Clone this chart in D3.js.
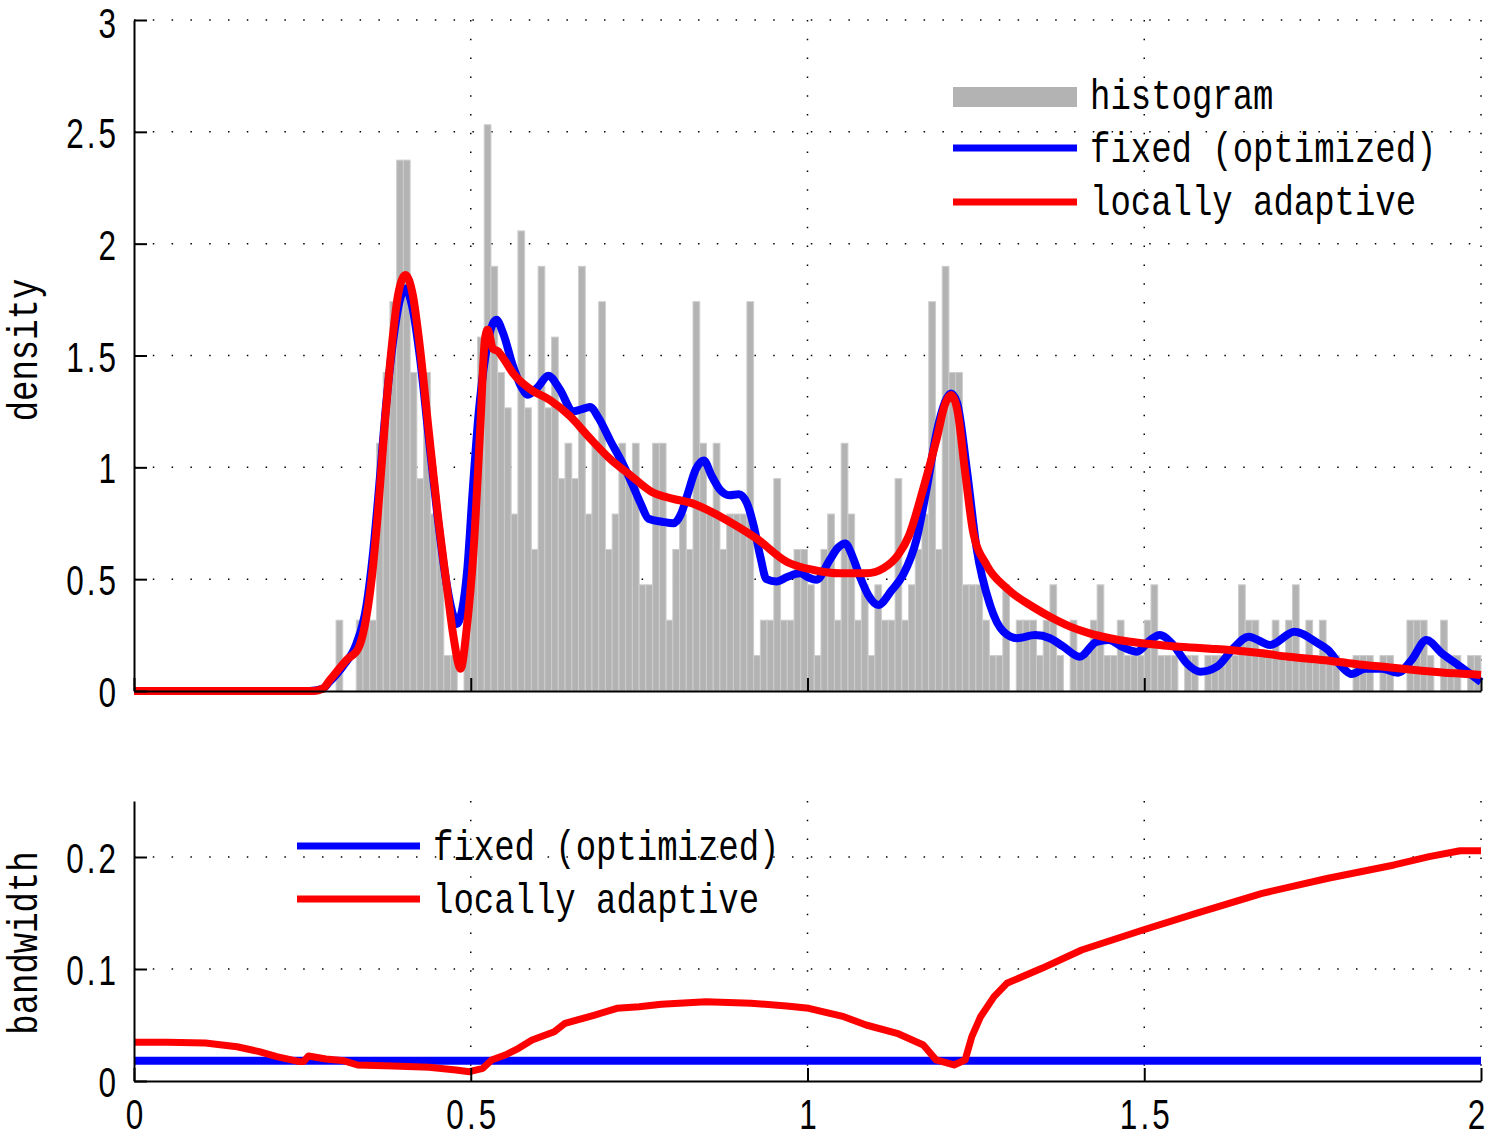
<!DOCTYPE html>
<html>
<head>
<meta charset="utf-8">
<script src="https://cdn.jsdelivr.net/npm/d3@7/dist/d3.min.js"></script>
<style>
  html, body { margin: 0; padding: 0; background: #fff; }
  svg { display: block; }
  text { fill: #000; }
  .mono { font-family: "Liberation Mono", "DejaVu Sans Mono", monospace; }
  .num { font-family: "Liberation Sans", "DejaVu Sans", sans-serif; letter-spacing: 4px; }
</style>
</head>
<body>
<svg id="chart" width="1491" height="1139"></svg>
<script>
// histogram counts per 0.01 bin, starting at x = 0.00
var binWidth = 0.01;
var binCounts = [
  0,0,0,0,0,0,0,0,0,0, 0,0,0,0,0,0,0,0,0,0, 0,0,0,0,0,0,0,0,0,0,
  2,0,0,2,2,2,7,9,11,15,
  15,9,6,9,5,4,1,1,0,2,
  6,10,16,12,9,8,5,13,8,4,
  12,8,10,6,7,6,12,5,7,11,
  4,5,7,6,7,3,3,7,7,2,
  4,5,4,11,7,5,7,4,5,5,
  5,11,1,2,2,6,2,2,4,4,
  3,1,4,5,2,7,5,2,3,1,
  3,2,2,6,2,3,4,5,11,4,
  12,9,9,3,3,3,2,1,1,3,
  0,2,2,2,1,2,3,1,0,2,
  1,1,2,3,1,1,2,1,1,1,
  2,3,1,1,1,0,1,1,0,1,
  1,1,1,1,3,2,2,1,1,2,
  1,2,3,1,2,1,2,1,1,0,
  0,1,1,1,0,1,1,0,0,2,
  2,2,1,0,2,1,1,0,1,1
];

// density estimates [x, density]
var fixedKde = [[0,0],[0.26,0],[0.28,0.01],[0.29,0.04],[0.31,0.11],[0.33,0.21],[0.345,0.38],[0.355,0.62],
  [0.365,0.95],[0.375,1.3],[0.385,1.57],[0.395,1.75],[0.403,1.8],[0.413,1.72],[0.425,1.48],[0.437,1.15],
  [0.45,0.8],[0.462,0.52],[0.472,0.36],[0.479,0.3],[0.487,0.36],[0.495,0.55],[0.503,0.9],[0.512,1.25],
  [0.522,1.5],[0.53,1.62],[0.538,1.66],[0.548,1.6],[0.563,1.45],[0.575,1.36],[0.585,1.325],[0.6,1.36],
  [0.615,1.41],[0.632,1.35],[0.652,1.25],[0.665,1.26],[0.677,1.27],[0.69,1.22],[0.707,1.12],[0.725,1.02],
  [0.739,0.93],[0.752,0.84],[0.764,0.77],[0.784,0.757],[0.801,0.75],[0.812,0.79],[0.822,0.88],[0.834,0.99],
  [0.846,1.03],[0.858,0.96],[0.87,0.9],[0.884,0.875],[0.898,0.88],[0.91,0.84],[0.92,0.74],[0.93,0.6],
  [0.939,0.5],[0.954,0.49],[0.97,0.51],[0.989,0.526],[1.0,0.51],[1.013,0.497],[1.033,0.586],[1.045,0.64],
  [1.056,0.66],[1.067,0.6],[1.078,0.51],[1.09,0.43],[1.105,0.385],[1.125,0.45],[1.142,0.52],[1.162,0.68],
  [1.177,0.906],[1.192,1.16],[1.207,1.31],[1.213,1.33],[1.222,1.29],[1.237,0.98],[1.251,0.64],[1.271,0.385],
  [1.291,0.265],[1.311,0.236],[1.338,0.25],[1.36,0.236],[1.38,0.198],[1.404,0.153],[1.429,0.22],[1.447,0.228],
  [1.469,0.195],[1.489,0.176],[1.509,0.228],[1.523,0.25],[1.543,0.206],[1.563,0.124],[1.583,0.086],[1.608,0.109],
  [1.632,0.19],[1.655,0.243],[1.687,0.206],[1.723,0.265],[1.758,0.213],[1.773,0.183],[1.793,0.109],[1.808,0.076],
  [1.828,0.1],[1.853,0.1],[1.877,0.082],[1.897,0.139],[1.919,0.228],[1.942,0.168],[1.966,0.116],[2.0,0.04]];

var adaptiveKde = [[0,0],[0.265,0],[0.28,0.01],[0.291,0.05],[0.316,0.14],[0.333,0.19],[0.3425,0.29],[0.352,0.478],
  [0.362,0.79],[0.372,1.18],[0.382,1.52],[0.392,1.77],[0.403,1.86],[0.414,1.77],[0.424,1.55],[0.437,1.18],
  [0.451,0.79],[0.464,0.48],[0.474,0.25],[0.485,0.1],[0.494,0.28],[0.504,0.62],[0.514,1.17],[0.521,1.57],
  [0.525,1.615],[0.533,1.53],[0.54,1.52],[0.55,1.48],[0.563,1.42],[0.588,1.35],[0.618,1.3],[0.647,1.23],
  [0.677,1.13],[0.706,1.04],[0.739,0.96],[0.769,0.89],[0.799,0.86],[0.828,0.84],[0.858,0.8],[0.888,0.75],
  [0.925,0.68],[0.969,0.578],[1.009,0.541],[1.048,0.526],[1.088,0.526],[1.113,0.549],[1.135,0.61],[1.15,0.69],
  [1.172,0.906],[1.192,1.13],[1.204,1.28],[1.213,1.323],[1.222,1.264],[1.234,0.98],[1.246,0.71],[1.266,0.563],
  [1.296,0.459],[1.338,0.37],[1.36,0.332],[1.39,0.288],[1.419,0.258],[1.449,0.236],[1.479,0.22],[1.509,0.21],
  [1.538,0.201],[1.568,0.195],[1.598,0.189],[1.627,0.183],[1.672,0.17],[1.714,0.153],[1.764,0.139],[1.813,0.121],
  [1.862,0.106],[1.912,0.091],[1.961,0.079],[2.0,0.072]];

// bandwidths [x, h]
var fixedBw = [[0,0.018],[2,0.018]];
var adaptiveBw = [[0,0.0345],[0.05,0.0345],[0.106,0.034],[0.153,0.0306],[0.186,0.0262],[0.212,0.0217],
  [0.2455,0.0173],[0.252,0.0175],[0.259,0.0223],[0.285,0.0196],[0.312,0.018],[0.332,0.0143],[0.385,0.0134],
  [0.438,0.0122],[0.478,0.0098],[0.498,0.0083],[0.518,0.0113],[0.531,0.0188],[0.551,0.0232],[0.571,0.0292],
  [0.591,0.0366],[0.624,0.044],[0.64,0.0515],[0.684,0.0589],[0.717,0.0649],[0.75,0.0663],[0.783,0.0685],
  [0.849,0.0708],[0.916,0.0694],[0.969,0.067],[1.002,0.0649],[1.054,0.0574],[1.087,0.05],[1.133,0.0426],
  [1.172,0.0321],[1.191,0.0188],[1.2175,0.0143],[1.234,0.0188],[1.244,0.0396],[1.257,0.0574],[1.277,0.0753],
  [1.296,0.0872],[1.348,0.1006],[1.407,0.117],[1.498,0.1348],[1.577,0.1497],[1.675,0.1676],[1.773,0.181],
  [1.871,0.1929],[1.923,0.2003],[1.969,0.2056],[2.0,0.2056]];

var xTicks = [0, 0.5, 1, 1.5, 2];
var xTickLabels = ["0", "0.5", "1", "1.5", "2"];
var topYTicks = [0, 0.5, 1, 1.5, 2, 2.5, 3];
var topYTickLabels = ["0", "0.5", "1", "1.5", "2", "2.5", "3"];
var botYTicks = [0, 0.1, 0.2];
var botYTickLabels = ["0", "0.1", "0.2"];
var topLegend = ["histogram", "fixed (optimized)", "locally adaptive"];
var botLegend = ["fixed (optimized)", "locally adaptive"];

var svg = d3.select("#chart");
var W = 1491, H = 1139;
var x = d3.scaleLinear().domain([0, 2]).range([134, 1481]);
var yTop = d3.scaleLinear().domain([0, 3]).range([691, 20]);
var yBot = d3.scaleLinear().domain([0, 0.25]).range([1081, 801]);

var BLUE = "#0000ff", RED = "#ff0000", GRAY = "#b3b3b3";
var total = d3.sum(binCounts);
var numSize = 42;

// squeezed a little so it reads like the narrow gothic font of the original
function label(txt, px, py, size, anchor, cls, rot, sx) {
  var t = "translate(" + px + "," + py + ")" + (rot ? " rotate(-90)" : "") + " scale(" + (sx || 0.79) + ",1)";
  return svg.append("text")
    .attr("class", cls)
    .attr("transform", t)
    .attr("text-anchor", anchor)
    .style("font-size", size + "px")
    .text(txt);
}

function grid(yScale, yTicks, yMin, yMax) {
  var g = svg.append("g").attr("stroke", "#000").attr("stroke-width", 1.5)
    .attr("stroke-dasharray", "1.5,17.3");
  g.selectAll(".gx").data(xTicks.filter(function(d){ return d > 0; })).enter()
    .append("line")
    .attr("x1", function(d){ return x(d); }).attr("x2", function(d){ return x(d); })
    .attr("y1", yScale(yMax)).attr("y2", yScale(yMin));
  g.selectAll(".gy").data(yTicks.filter(function(d){ return d > 0; })).enter()
    .append("line")
    .attr("x1", x(0)).attr("x2", x(2))
    .attr("y1", function(d){ return yScale(d); }).attr("y2", function(d){ return yScale(d); });
}

function axes(yScale, yTicks) {
  svg.append("g")
    .attr("transform", "translate(0," + yScale(0) + ")")
    .call(d3.axisBottom(x).tickValues(xTicks).tickSize(-13).tickFormat("").tickSizeOuter(0))
    .call(function(g){ g.selectAll("line,path").attr("stroke", "#000").attr("stroke-width", 2); });
  svg.append("g")
    .attr("transform", "translate(" + x(0) + ",0)")
    .call(d3.axisLeft(yScale).tickValues(yTicks).tickSize(-13).tickFormat("").tickSizeOuter(0))
    .call(function(g){ g.selectAll("line,path").attr("stroke", "#000").attr("stroke-width", 2); });
}

function yLabels(yScale, ticks, labels) {
  ticks.forEach(function(v, i){
    // keep the top label's font box inside the page
    var base = Math.max(yScale(v) + 16, numSize * 0.91);
    label(labels[i], 119, base, numSize, "end", "num", false, 0.75);
  });
}

// ---------- top panel ----------
grid(yTop, topYTicks, 0, 3);

svg.append("g").selectAll("rect")
  .data(binCounts.map(function(c, i){ return { x0: i * binWidth, d: c / (total * binWidth) }; })
    .filter(function(b){ return b.d > 0; }))
  .enter().append("rect")
  .attr("x", function(b){ return x(b.x0); })
  .attr("width", function(b){ return x(b.x0 + binWidth) - x(b.x0); })
  .attr("y", function(b){ return yTop(b.d); })
  .attr("height", function(b){ return yTop(0) - yTop(b.d); })
  .attr("fill", GRAY)
  .attr("stroke", "#cdcdcd")
  .attr("stroke-width", 1);

var topLine = d3.line()
  .x(function(d){ return x(d[0]); })
  .y(function(d){ return yTop(d[1]); })
  .curve(d3.curveMonotoneX);

svg.append("path").datum(fixedKde)
  .attr("d", topLine).attr("fill", "none")
  .attr("stroke", BLUE).attr("stroke-width", 8).attr("stroke-linejoin", "round");
svg.append("path").datum(adaptiveKde)
  .attr("d", topLine).attr("fill", "none")
  .attr("stroke", RED).attr("stroke-width", 8).attr("stroke-linejoin", "round");

axes(yTop, topYTicks);
yLabels(yTop, topYTicks, topYTickLabels);
label("density", 37, 350, 43, "middle", "mono", true);

// legend (top)
svg.append("rect").attr("x", 953).attr("y", 87).attr("width", 124).attr("height", 20).attr("fill", GRAY);
svg.append("line").attr("x1", 953).attr("x2", 1077).attr("y1", 148).attr("y2", 148)
  .attr("stroke", BLUE).attr("stroke-width", 7);
svg.append("line").attr("x1", 953).attr("x2", 1077).attr("y1", 202).attr("y2", 202)
  .attr("stroke", RED).attr("stroke-width", 7);
label(topLegend[0], 1090, 109, 43, "start", "mono");
label(topLegend[1], 1090, 162, 43, "start", "mono");
label(topLegend[2], 1090, 215, 43, "start", "mono");

// ---------- bottom panel ----------
grid(yBot, botYTicks, 0, 0.25);

var botLine = d3.line()
  .x(function(d){ return x(d[0]); })
  .y(function(d){ return yBot(d[1]); });

svg.append("path").datum(fixedBw)
  .attr("d", botLine).attr("fill", "none")
  .attr("stroke", BLUE).attr("stroke-width", 8);
svg.append("path").datum(adaptiveBw)
  .attr("d", botLine).attr("fill", "none")
  .attr("stroke", RED).attr("stroke-width", 7).attr("stroke-linejoin", "round");

axes(yBot, botYTicks);
yLabels(yBot, botYTicks, botYTickLabels);

xTicks.forEach(function(v, i){
  // last label pulled in so its box stays on the page
  var cx = Math.min(x(v) + 2, W - 13);
  label(xTickLabels[i], cx, H - 10, numSize, "middle", "num", false, 0.75);
});
label("bandwidth", 37, 943, 43, "middle", "mono", true);

// legend (bottom)
svg.append("line").attr("x1", 297).attr("x2", 420).attr("y1", 846).attr("y2", 846)
  .attr("stroke", BLUE).attr("stroke-width", 7);
svg.append("line").attr("x1", 297).attr("x2", 420).attr("y1", 899).attr("y2", 899)
  .attr("stroke", RED).attr("stroke-width", 7);
label(botLegend[0], 433, 860, 43, "start", "mono");
label(botLegend[1], 433, 913, 43, "start", "mono");
</script>
</body>
</html>
